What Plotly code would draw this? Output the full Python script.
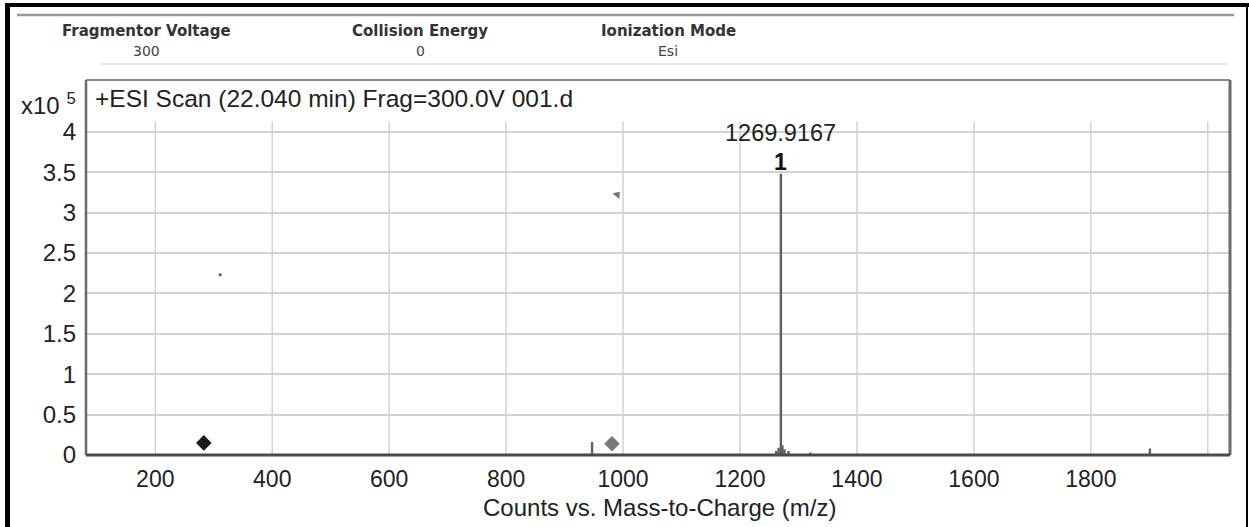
import plotly.graph_objects as go

# ---------------- data (counts in units of 1e5) ----------------
spec_mz = [947.0, 1262.0, 1266.0, 1269.9167, 1272.5, 1276.0, 1283.0, 1320.0, 1901.0]
spec_int = [0.16, 0.05, 0.09, 3.48, 0.12, 0.07, 0.05, 0.03, 0.08]

black_marker_mz = [283.0]
black_marker_int = [0.15]
gray_marker_mz = [981.0]
gray_marker_int = [0.14]
stray_mz = [990.0]
stray_int = [3.22]
dot_mz = [311.0]
dot_int = [2.23]

peak_label_mz = 1269.9167
peak_label_text = "1269.9167"
peak_label_num = "1"

x_tick_vals = [200, 400, 600, 800, 1000, 1200, 1400, 1600, 1800]
x_tick_text = ["200", "400", "600", "800", "1000", "1200", "1400", "1600", "1800"]
x_grid_vals = [200, 400, 600, 800, 1000, 1200, 1400, 1600, 1800, 2000]
y_tick_vals = [0, 0.5, 1, 1.5, 2, 2.5, 3, 3.5, 4]
y_tick_text = ["0", "0.5", "1", "1.5", "2", "2.5", "3", "3.5", "4"]

x_title = "Counts vs. Mass-to-Charge (m/z)"
header_titles = ["Fragmentor Voltage", "Collision Energy", "Ionization Mode"]
header_values = ["300", "0", "Esi"]

# ---------------- layout geometry (pixels) ----------------
W, H = 1249, 527
L, R, T, B = 86, 1230, 80, 455


def pxx(p):
    return (p - L) / (R - L)


def pxy(p):
    return (B - p) / (B - T)


# build stick spectrum from the arrays
sx, sy = [], []
for m, v in zip(spec_mz, spec_int):
    sx += [m, m, None]
    sy += [0, v, None]

fig = go.Figure()
fig.add_trace(go.Scatter(x=sx, y=sy, mode="lines",
                         line=dict(color="#5e5e5e", width=2.4),
                         hoverinfo="skip", showlegend=False))
fig.add_trace(go.Scatter(x=black_marker_mz, y=black_marker_int, mode="markers",
                         marker=dict(symbol="diamond", size=12, color="#1a1a1a"),
                         showlegend=False))
fig.add_trace(go.Scatter(x=gray_marker_mz, y=gray_marker_int, mode="markers",
                         marker=dict(symbol="diamond", size=12, color="#7a7a7a"),
                         showlegend=False))
fig.add_trace(go.Scatter(x=stray_mz, y=stray_int, mode="markers",
                         marker=dict(symbol="triangle-up", size=8, color="#777777", angle=40),
                         showlegend=False))
fig.add_trace(go.Scatter(x=dot_mz, y=dot_int, mode="markers",
                         marker=dict(symbol="circle", size=3, color="#555555"),
                         showlegend=False))

shapes = []
# vertical grid lines (stop below the title strip, extend a bit below the axis)
for gv in x_grid_vals:
    shapes.append(dict(type="line", xref="x", yref="y", x0=gv, x1=gv, y0=-0.1, y1=4.125,
                       line=dict(color="#d2d2d2", width=1.5), layer="below"))
# plot frame
shapes.append(dict(type="line", xref="paper", yref="paper", x0=0, x1=1, y0=1, y1=1,
                   line=dict(color="#8a8a8a", width=2)))
shapes.append(dict(type="line", xref="paper", yref="paper", x0=1, x1=1, y0=0, y1=1,
                   line=dict(color="#6a6a6a", width=3)))
shapes.append(dict(type="line", xref="paper", yref="paper", x0=0, x1=0, y0=0, y1=1,
                   line=dict(color="#6a6a6a", width=2.5)))
shapes.append(dict(type="line", xref="paper", yref="paper", x0=0, x1=1, y0=0, y1=0,
                   line=dict(color="#4a4a4a", width=3)))
# header separator line
shapes.append(dict(type="line", xref="paper", yref="paper", x0=pxx(17), x1=pxx(1234),
                   y0=pxy(15), y1=pxy(15), line=dict(color="#9a9a9a", width=2.5)))
# faint line above the plot box
shapes.append(dict(type="line", xref="paper", yref="paper", x0=pxx(100), x1=pxx(1228),
                   y0=pxy(64), y1=pxy(64), line=dict(color="#e8e8e8", width=2)))
# black page border
shapes.append(dict(type="rect", xref="paper", yref="paper", x0=pxx(5), x1=pxx(10),
                   y0=pxy(530), y1=pxy(3), fillcolor="#000", line=dict(width=0)))
shapes.append(dict(type="rect", xref="paper", yref="paper", x0=pxx(5), x1=pxx(1249),
                   y0=pxy(7), y1=pxy(3), fillcolor="#000", line=dict(width=0)))
shapes.append(dict(type="rect", xref="paper", yref="paper", x0=pxx(1246), x1=pxx(1248),
                   y0=pxy(530), y1=pxy(3), fillcolor="#000", line=dict(width=0)))

annotations = []
header_x = [146, 420, 668]
for hx, ht, hv in zip(header_x, header_titles, header_values):
    annotations.append(dict(xref="paper", yref="paper", x=pxx(hx), y=pxy(31), text=ht,
                            showarrow=False, xanchor="center", yanchor="middle",
                            font=dict(family="DejaVu Sans", size=15, color="#333333",
                                      weight="bold")))
    annotations.append(dict(xref="paper", yref="paper", x=pxx(hx), y=pxy(51), text=hv,
                            showarrow=False, xanchor="center", yanchor="middle",
                            font=dict(family="DejaVu Sans", size=14, color="#444444")))
# scan title inside plot box
annotations.append(dict(xref="paper", yref="paper", x=pxx(93), y=pxy(98),
                        text="+ESI Scan (22.040 min) Frag=300.0V 001.d",
                        showarrow=False, xanchor="left", yanchor="middle",
                        font=dict(family="Liberation Sans", size=24.5, color="#222222")))
# exponent label
annotations.append(dict(xref="paper", yref="paper", x=pxx(78), y=pxy(104),
                        text="x10 <sup>5</sup>", showarrow=False, xanchor="right",
                        yanchor="middle",
                        font=dict(family="Liberation Sans", size=24, color="#222222")))
# x-axis title
annotations.append(dict(xref="paper", yref="paper", x=pxx(659), y=pxy(507),
                        text=x_title, showarrow=False, xanchor="center", yanchor="middle",
                        font=dict(family="Liberation Sans", size=24, color="#222222")))
# peak labels
peak_val = spec_int[spec_mz.index(peak_label_mz)]
annotations.append(dict(xref="x", yref="y", x=peak_label_mz, y=peak_val, text=peak_label_num,
                        showarrow=False, xanchor="center", yanchor="bottom", yshift=-3,
                        font=dict(family="Liberation Sans", size=23, color="#111111",
                                  weight="bold")))
annotations.append(dict(xref="x", yref="y", x=peak_label_mz, y=peak_val, text=peak_label_text,
                        showarrow=False, xanchor="center", yanchor="bottom", yshift=26,
                        font=dict(family="Liberation Sans", size=23.5, color="#222222")))

fig.update_layout(
    width=W, height=H,
    margin=dict(l=L, r=W - R, t=T, b=H - B, pad=0),
    paper_bgcolor="white", plot_bgcolor="white",
    showlegend=False,
    shapes=shapes, annotations=annotations,
    font=dict(family="Liberation Sans", color="#222222"),
)
fig.update_xaxes(range=[81.5, 2038], tickvals=x_tick_vals, ticktext=x_tick_text,
                 showgrid=False, zeroline=False, showline=False, ticks="",
                 tickfont=dict(size=23, color="#222222"), ticklabelstandoff=8)
fig.update_yaxes(range=[0, 4.64], tickvals=y_tick_vals, ticktext=y_tick_text,
                 showgrid=True, gridcolor="#d2d2d2", gridwidth=1.5,
                 zeroline=False, showline=False, ticks="",
                 tickfont=dict(size=24, color="#222222"), ticklabelstandoff=9)

fig.write_html("out.html")
